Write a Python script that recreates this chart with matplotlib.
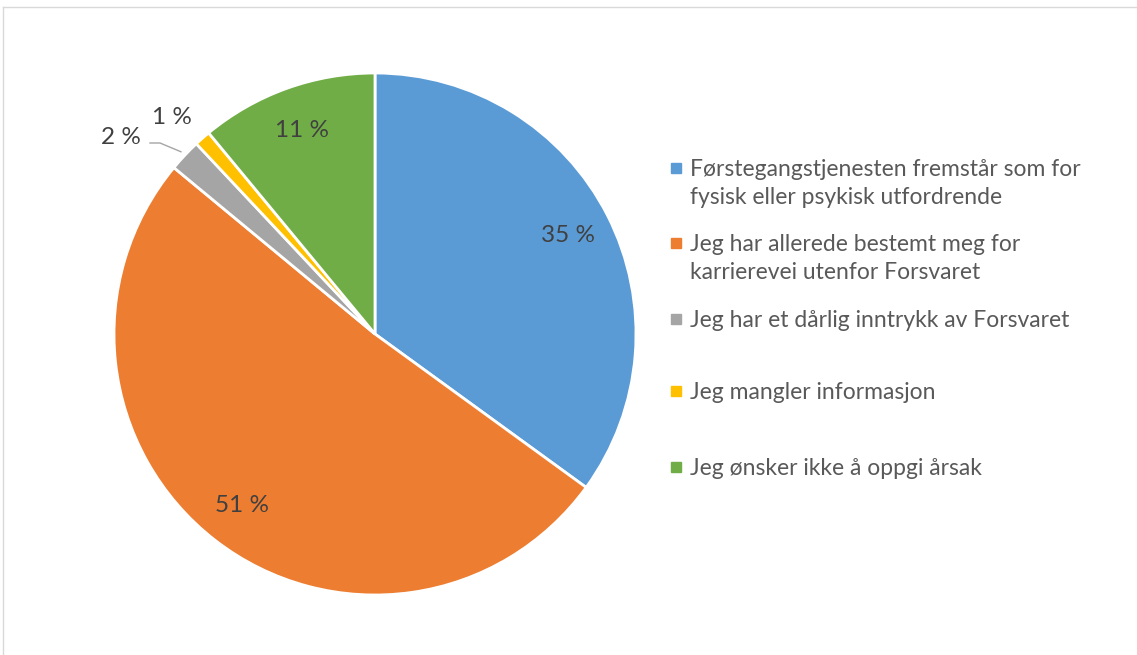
import matplotlib
matplotlib.use('Agg')
import matplotlib.pyplot as plt
import matplotlib.patches as mpatches
import numpy as np

# data
labels = ["Førstegangstjenesten fremstår som for\nfysisk eller psykisk utfordrende",
          "Jeg har allerede bestemt meg for\nkarrierevei utenfor Forsvaret",
          "Jeg har et dårlig inntrykk av Forsvaret",
          "Jeg mangler informasjon",
          "Jeg ønsker ikke å oppgi årsak"]
values = [35, 51, 2, 1, 11]
colors = ["#5B9BD5", "#ED7D31", "#A5A5A5", "#FFC000", "#70AD47"]

plt.rcParams['font.family'] = ['Lato', 'DejaVu Sans']

W, H = 1137, 655
fig = plt.figure(figsize=(W / 100, H / 100), dpi=100)

# pie axes: center (375, 334) px, radius 261 px
cx, cy, r = 375, 334, 261
ax = fig.add_axes([(cx - r) / W, 1 - (cy + r) / H, 2 * r / W, 2 * r / H])
wedges, _ = ax.pie(values, colors=colors, startangle=90, counterclock=False,
                   radius=1, wedgeprops=dict(edgecolor='white', linewidth=2))
ax.set_xlim(-1, 1)
ax.set_ylim(-1, 1)
ax.set_aspect('equal')
ax.axis('off')

# percentage labels
lab_col = '#404040'
fs = 17.5
for i, w in enumerate(wedges):
    mid = np.deg2rad((w.theta1 + w.theta2) / 2)
    txt = "%d %%" % values[i]
    if values[i] >= 5:
        d = 0.83
        ax.text(d * np.cos(mid), d * np.sin(mid), txt, ha='center', va='center',
                fontsize=fs, color=lab_col)
    elif values[i] == 2:
        x0, y0 = 1.02 * np.cos(mid), 1.02 * np.sin(mid)
        tx, ty = (121 - cx) / r, (cy - 137) / r
        ax.plot([x0, (160 - cx) / r, (150 - cx) / r], [y0, (cy - 143) / r, (cy - 143) / r],
                color='#A5A5A5', lw=1, clip_on=False)
        ax.text(tx, ty, txt, ha='center', va='center', fontsize=fs, color=lab_col)
    else:
        tx, ty = (172 - cx) / r, (cy - 118) / r
        ax.text(tx, ty, txt, ha='center', va='center', fontsize=fs, color=lab_col)

# legend drawn by hand (Excel-style uneven spacing)
leg_y = [168, 243, 319, 391, 467]
for lab, col, y in zip(labels, colors, leg_y):
    fig.patches.append(mpatches.Rectangle((671 / W, 1 - (y + 5) / H), 10 / W, 10 / H,
                                          transform=fig.transFigure, color=col))
    fig.text(690 / W, 1 - (y - 9) / H, lab, ha='left', va='top', fontsize=16.5,
             color='#595959', linespacing=1.42)

# chart border (top and left visible)
fig.add_artist(plt.Line2D([3 / W, 1], [1 - 7 / H, 1 - 7 / H], transform=fig.transFigure,
                          color='#D9D9D9', lw=1))
fig.add_artist(plt.Line2D([3 / W, 3 / W], [0, 1 - 7 / H], transform=fig.transFigure,
                          color='#D9D9D9', lw=1))

fig.savefig('out.png', dpi=100)
